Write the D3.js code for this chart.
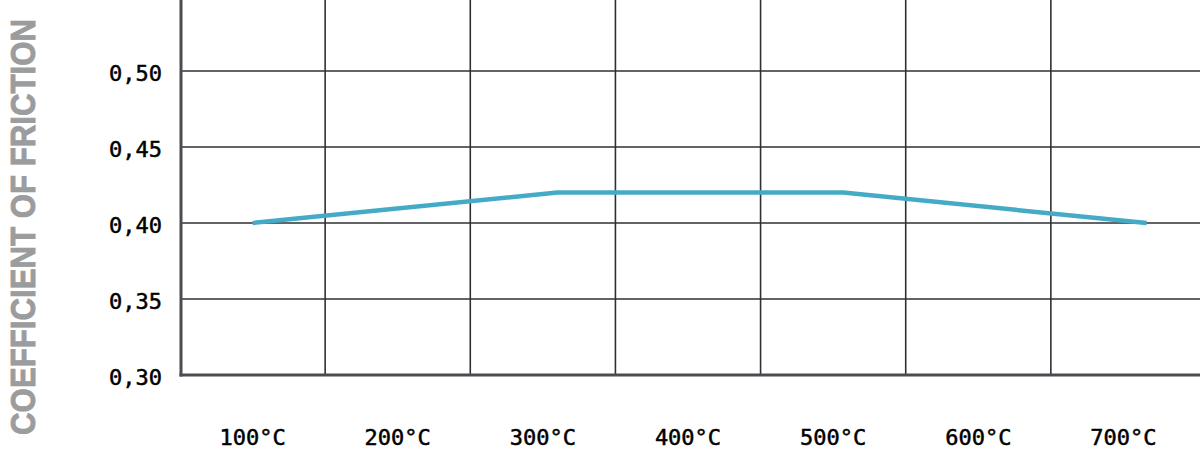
<!DOCTYPE html>
<html>
<head>
<meta charset="utf-8">
<script src="https://cdn.jsdelivr.net/npm/d3@7/dist/d3.min.js"></script>
<style>
  html, body { margin: 0; padding: 0; background: #fff; overflow: hidden; }
  svg { display: block; }
</style>
</head>
<body>
<svg id="chart" width="1200" height="452"></svg>
<script>
// ---- data ----
const categories = ["100°C", "200°C", "300°C", "400°C", "500°C", "600°C", "700°C"];
const yTicks = [0.30, 0.35, 0.40, 0.45, 0.50];
const yTickLabels = ["0,30", "0,35", "0,40", "0,45", "0,50"];
const lineTemps = [100, 310, 507, 716];
const lineValues = [0.40, 0.42, 0.42, 0.40];
const yTitle = "COEFFICIENT OF FRICTION";

// ---- layout ----
const W = 1200, H = 452;
const left = 181, bottom = 375, plotTop = -5, bandRight = 1196;

const svg = d3.select("#chart");

const x = d3.scaleBand().domain(categories).range([left - 1, bandRight]).paddingInner(0).paddingOuter(0);
const y = d3.scaleLinear().domain([0.30, 0.55]).range([bottom, plotTop]);
const xt = d3.scaleLinear()
  .domain([100, 700])
  .range([x("100°C") + x.bandwidth() / 2, x("700°C") + x.bandwidth() / 2]);

// horizontal gridlines
svg.append("g")
  .selectAll("line")
  .data(yTicks.filter(d => d > 0.30))
  .join("line")
  .attr("x1", left).attr("x2", W)
  .attr("y1", d => y(d)).attr("y2", d => y(d))
  .attr("stroke", "#2f3033").attr("stroke-width", 1.6);

// vertical gridlines at band boundaries
svg.append("g")
  .selectAll("line")
  .data(categories.slice(1))
  .join("line")
  .attr("x1", d => x(d)).attr("x2", d => x(d))
  .attr("y1", 0).attr("y2", bottom)
  .attr("stroke", "#2f3033").attr("stroke-width", 1.6);

// axes lines
svg.append("line")
  .attr("x1", left).attr("x2", left)
  .attr("y1", 0).attr("y2", bottom + 1.5)
  .attr("stroke", "#4a4c51").attr("stroke-width", 3);
svg.append("line")
  .attr("x1", left - 1.5).attr("x2", W)
  .attr("y1", bottom).attr("y2", bottom)
  .attr("stroke", "#4a4c51").attr("stroke-width", 3);

// y tick labels
svg.append("g")
  .selectAll("text")
  .data(yTicks)
  .join("text")
  .attr("x", left - 19)
  .attr("y", d => y(d) + 4)
  .attr("text-anchor", "end")
  .attr("dominant-baseline", "middle")
  .attr("font-family", "'DejaVu Sans Mono', monospace")
  .attr("font-size", 22)
  .attr("fill", "#000")
  .attr("stroke", "#000")
  .attr("stroke-width", 0.5)
  .text((d, i) => yTickLabels[i]);

// x tick labels
svg.append("g")
  .selectAll("text")
  .data(categories)
  .join("text")
  .attr("x", d => x(d) + x.bandwidth() / 2)
  .attr("y", 445)
  .attr("text-anchor", "middle")
  .attr("font-family", "'DejaVu Sans Mono', monospace")
  .attr("font-size", 22)
  .attr("fill", "#000")
  .attr("stroke", "#000")
  .attr("stroke-width", 0.5)
  .text(d => d);

// line
const pts = lineTemps.map((t, i) => [t, lineValues[i]]);
svg.append("path")
  .datum(pts)
  .attr("fill", "none")
  .attr("stroke", "#45aac5")
  .attr("stroke-width", 4.5)
  .attr("d", d3.line().x(d => xt(d[0])).y(d => y(d[1])));

// y title (compressed horizontally via scale so its box stays accurate)
const title = svg.append("text")
  .attr("text-anchor", "middle")
  .attr("font-family", "'Liberation Sans', Arial, sans-serif")
  .attr("font-weight", "bold")
  .attr("font-size", 35)
  .attr("fill", "#9b9c9e")
  .attr("stroke", "#9b9c9e")
  .attr("stroke-width", 0.9)
  .text(yTitle);
const natural = title.node().getComputedTextLength();
const sx = 416 / natural;
title.attr("transform", `translate(35,227) rotate(-90) scale(${sx},1)`);
</script>
</body>
</html>
